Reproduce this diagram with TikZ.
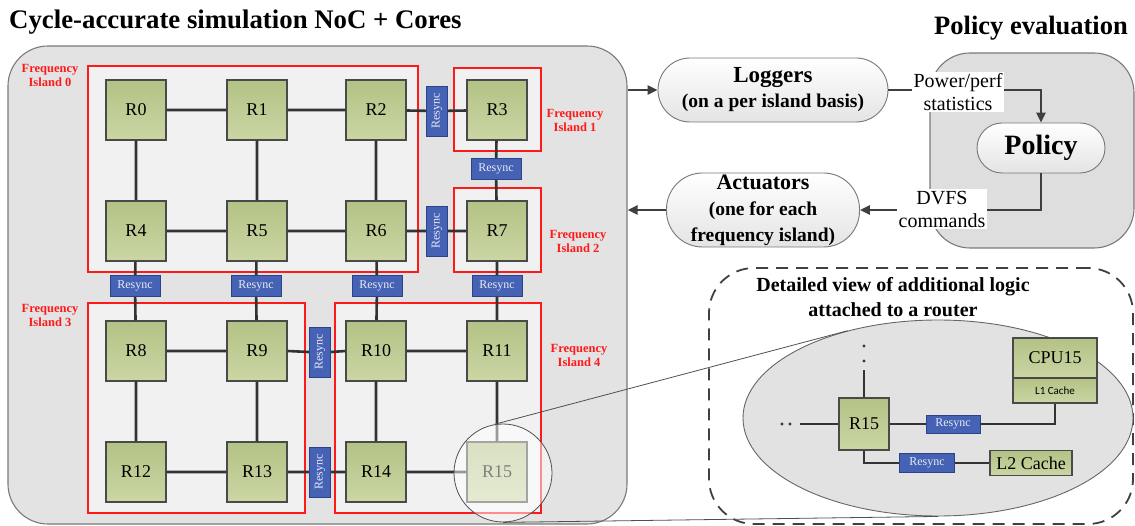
\documentclass[tikz,border=0pt]{standalone}
\usepackage{fontspec}
\setmainfont{Liberation Serif}
\newfontfamily\calib{Carlito}
\usetikzlibrary{shapes.geometric,arrows.meta}
\newcommand\myfs[2]{\fontsize{#1}{#2}\selectfont}
\definecolor{rtop}{HTML}{B3C285}
\definecolor{rbot}{HTML}{CBD6A4}
\definecolor{rborder}{HTML}{4A4A4A}
\definecolor{rsfill}{HTML}{4662B4}
\definecolor{rsborder}{HTML}{2B4488}
\definecolor{rstext}{HTML}{E6EAF5}
\definecolor{boxfill}{HTML}{E3E3E3}
\definecolor{boxb}{HTML}{7A7A7A}
\definecolor{islfill}{HTML}{F1F1F1}
\definecolor{islred}{HTML}{FF1A1A}
\definecolor{linkc}{HTML}{333333}
\definecolor{connc}{HTML}{3F3F3F}
\definecolor{polfill}{HTML}{DEDEDE}
\definecolor{pillb}{HTML}{777777}
\definecolor{pillbot}{HTML}{E4E4E4}
\definecolor{ellfill}{HTML}{E2E2E2}
\definecolor{ellb}{HTML}{666666}
\definecolor{dashc}{HTML}{404040}
\definecolor{zoomc}{HTML}{505050}
\tikzset{
 router/.style={draw=rborder, line width=1.1pt, top color=rtop, bottom color=rbot, minimum width=60pt, minimum height=60pt, inner sep=0pt, font=\myfs{18}{20}},
 rsync/.style={draw=rsborder, fill=rsfill, line width=0.9pt, minimum width=50pt, minimum height=21pt, inner sep=0pt, text=rstext, font=\myfs{12}{13}},
 rsyncv/.style={rsync, rotate=90},
 island/.style={draw=islred, line width=1.8pt, fill=islfill},
 isllab/.style={text=islred, align=center, font=\bfseries\myfs{12.5}{14}},
 link/.style={draw=linkc, line width=2.6pt},
 conn/.style={draw=connc, line width=2.8pt},
 arr/.style={conn, -{Triangle[length=10pt,width=9pt]}},
 pill/.style={draw=pillb, line width=0.9pt, top color=white, bottom color=pillbot, align=center, inner sep=0pt},
 lab/.style={fill=white, align=center, inner sep=1.5pt, font=\myfs{20}{23}},
 zoomline/.style={draw=zoomc, line width=0.8pt},
}
\begin{document}
\begin{tikzpicture}[x=1pt,y=-1pt]
\useasboundingbox (0,0) rectangle (1135,526);
% titles
\node[anchor=west, font=\bfseries\myfs{26.8}{28}, inner sep=0pt] (title) at (9,22) {Cycle-accurate simulation NoC + Cores};
\node[anchor=east, font=\bfseries\myfs{26.5}{28}, inner sep=0pt] (ptitle) at (1128,28) {Policy evaluation};
% simulation box
\node[draw=boxb, fill=boxfill, line width=1.1pt, rounded corners=40pt, minimum width=619pt, minimum height=478pt, inner sep=0pt] (sim) at (317.5,285) {};
% islands
\draw[island] (88,66) rectangle (418,272);
\draw[island] (454,68) rectangle (541,151);
\draw[island] (454,188) rectangle (541,272);
\draw[island] (88,303) rectangle (305,513);
\draw[island] (335,303) rectangle (541,513);
\node[isllab] (I0) at (50,75) {Frequency\\Island 0};
\node[isllab] (I1) at (575,120) {Frequency\\Island 1};
\node[isllab] (I2) at (578,241) {Frequency\\Island 2};
\node[isllab] (I3) at (50,315) {Frequency\\Island 3};
\node[isllab] (I4) at (579,355) {Frequency\\Island 4};
% routers
\foreach \n/\x/\y in {0/136/110,1/257/110,2/376/110,3/497/110,
                      4/136/231,5/257/231,6/376/231,7/497/231,
                      8/136/351,9/257/351,10/376/351,11/497/351,
                      12/136/472,13/257/472,14/376/472,15/497/472}
  \node[router] (R\n) at (\x,\y) {R\n};
% resync
\node[rsyncv] (VA) at (437,111) {Resync};
\node[rsyncv] (VB) at (437,231) {Resync};
\node[rsyncv] (VC) at (320,352) {Resync};
\node[rsyncv] (VD) at (320,472) {Resync};
\node[rsync] (HA) at (496,169) {Resync};
\node[rsync] (H4) at (135,286) {Resync};
\node[rsync] (H5) at (256,286) {Resync};
\node[rsync] (H6) at (377,286) {Resync};
\node[rsync] (H7) at (497,286) {Resync};
% links
\draw[link] (R0)--(R1) (R1)--(R2) (R2)--(VA) (VA)--(R3)
  (R4)--(R5) (R5)--(R6) (R6)--(VB) (VB)--(R7)
  (R8)--(R9) (R9.east)--(VC.north) (VC.south)--(R10.west) (R10)--(R11)
  (R12)--(R13) (R13.east)--(VD.north) (VD.south)--(R14.west) (R14)--(R15)
  (R0)--(R4) (R1)--(R5) (R2)--(R6) (R3)--(HA) (HA)--(R7)
  (R4)--(H4) (H4)--(R8) (R5)--(H5) (H5)--(R9) (R6)--(H6) (H6)--(R10) (R7)--(H7) (H7)--(R11)
  (R8)--(R12) (R9)--(R13) (R10)--(R14) (R11)--(R15);
% magnifier circle
\node[circle, draw=zoomc, line width=0.8pt, fill=white, fill opacity=0.5, minimum size=98pt, inner sep=0pt] (mag) at (503,473) {};
% policy evaluation box
\node[draw=boxb, fill=polfill, line width=1.1pt, rounded corners=40pt, minimum width=204pt, minimum height=195pt, inner sep=0pt] (pe) at (1032,150.5) {};
% pills
\node[pill, minimum width=230pt, minimum height=64pt, rounded corners=32pt, font=\bfseries\myfs{19.5}{25}] (Log) at (773,90) {{\myfs{23}{25}Loggers}\\(on a per island basis)};
\node[pill, minimum width=193pt, minimum height=74pt, rounded corners=36pt, font=\bfseries\myfs{19.5}{26}] (Act) at (763,210) {{\myfs{22}{26}Actuators}\\(one for each\\frequency island)};
\node[pill, minimum width=128pt, minimum height=50pt, rounded corners=25pt, font=\bfseries\myfs{28}{30}] (Pol) at (1041,148) {Policy};
% connectors
\draw[arr] (sim.east |- Log.west) -- (Log.west);
\draw[arr] (Act.west) -- (sim.east |- Act.west);
\draw[arr] (Log.east) -| (Pol.north);
\draw[arr] (Pol.south) |- (Act.east);
\node[lab] (pp) at (958,92) {Power/perf\\statistics};
\node[lab] (dv) at (942,209) {DVFS\\commands};
% detailed view
\node[draw=dashc, dash pattern=on 12pt off 8pt, line width=1.8pt, rounded corners=45pt, minimum width=424pt, minimum height=256pt, inner sep=0pt] (det) at (921,396) {};
\node[font=\bfseries\myfs{20}{25}, align=center] (dt) at (893,297) {Detailed view of additional logic\\attached to a router};
\node[ellipse, draw=ellb, fill=ellfill, line width=0.9pt, minimum width=390pt, minimum height=196pt, inner sep=0pt] (ell) at (938,418) {};
\node[router, minimum width=50pt, minimum height=52pt] (D15) at (864,424) {R15};
\node[rsync, minimum width=54pt, minimum height=18pt] (S1) at (953,424) {Resync};
\node[router, minimum width=84pt, minimum height=40pt] (CPU) at (1055,358) {CPU15};
\node[router, minimum width=84pt, minimum height=25pt, font=\calib\myfs{11}{12}] (L1) at (1055,390.5) {L1 Cache};
\node[rsync, minimum width=55pt, minimum height=19pt] (S2) at (927,463) {Resync};
\node[router, minimum width=82pt, minimum height=25pt] (L2) at (1031,463) {L2 Cache};
\coordinate (up) at (864,370);
\coordinate (lf) at (800,424);
\draw[link] (D15.north) -- (up);
\draw[link] (D15.west) -- (lf);
\fill[linkc] (864,361) circle (1.6pt) (864,346) circle (1.6pt) (790,424) circle (1.6pt) (782,424) circle (1.6pt);
\draw[link] (D15) -- (S1);
\draw[link] (S1.east) -| (L1.south);
\draw[link] (D15.south) |- (S2.west);
\draw[link] (S2) -- (L2);
% zoom lines
\draw[zoomline] (mag.100) -- (ell.136);
\draw[zoomline] (mag.south) -- (ell.south);
\end{tikzpicture}
\end{document}
